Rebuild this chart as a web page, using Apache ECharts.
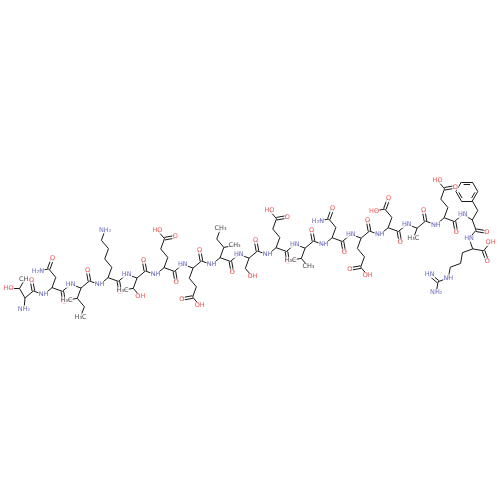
<!DOCTYPE html>
<html><head><meta charset="utf-8">
<script src="https://cdn.jsdelivr.net/npm/echarts@6/dist/echarts.min.js"></script>
<style>html,body{margin:0;background:#fff}#c{width:500px;height:500px}</style>
</head><body><div id="c"></div>
<script>
// peptide sequence, N to C terminus
const residues = ['Thr','Asn','Ile','Lys','Thr','Glu','Glu','Ile','Ser','Glu','Val','Asn','Glu','Asp','Ala','Glu','Phe','Arg'];
// side chains: zigzag items from CA outward
const sideChains = {
  Ala: ['CH3'], Ser: ['C','OH'], Thr: ['BR:CH3,OH'], Val: ['BR:CH3,CH3'],
  Ile: ['BR:CH3,ET'], Asn: ['C','CONH2'], Asp: ['C','COOH'], Glu: ['C','C','COOH'],
  Lys: ['C','C','C','C','NH2'], Phe: ['C','PH'], Arg: ['C','C','C','NH','GUAN']
};
const start = [25, 298];     // CA of residue 1
const baseAngle = -10.1;     // backbone direction, degrees
const tailAngles = [30, 70, 130, 70, 10]; // last bonds where the chain turns down
const L = 10.95;

const NCOL = '#4b4bb8', OCOL = '#ee2a2a';
const bonds = [], labels = [];
const rad = a => a * Math.PI / 180;
const dirOf = a => [Math.cos(rad(a)), Math.sin(rad(a))];
const rot = (d, a) => { const c = Math.cos(rad(a)), s = Math.sin(rad(a)); return [d[0]*c - d[1]*s, d[0]*s + d[1]*c]; };
const add = (p, d, k = L) => [p[0] + d[0]*k, p[1] + d[1]*k];
const norm = d => { const n = Math.hypot(d[0], d[1]); return [d[0]/n, d[1]/n]; };
function bond(a, b, dbl) {
  if (!dbl) { bonds.push([a, b]); return; }
  const n = norm([b[1]-a[1], a[0]-b[0]]), o = 1.3;
  bonds.push([[a[0]+n[0]*o, a[1]+n[1]*o], [b[0]+n[0]*o, b[1]+n[1]*o]]);
  bonds.push([[a[0]-n[0]*o, a[1]-n[1]*o], [b[0]-n[0]*o, b[1]-n[1]*o]]);
}
function label(p, t, d) {
  const left = d && d[0] < -0.3;
  const flip = { OH: 'HO', NH2: 'H₂N', CH3: 'H₃C', NH: 'HN' };
  const txt = { OH: 'OH', NH2: 'NH₂', CH3: 'CH₃', NH: 'NH', O: 'O', N: 'N' };
  const s = left && flip[t] ? flip[t] : (txt[t] || t);
  const col = t[0] === 'O' ? OCOL : (t[0] === 'N' || t === 'HN' ? NCOL : '#222');
  labels.push({ value: p, label: { formatter: s, color: col } });
}
function term(p, d, kind) {
  const a = rot(d, 60), b = rot(d, -60);
  const pa = add(p, a), pb = add(p, b);
  if (kind === 'COOH') { bond(p, pa, true); label(pa, 'O'); bond(p, pb); label(pb, 'OH', b); }
  if (kind === 'CONH2') { bond(p, pa, true); label(pa, 'O'); bond(p, pb); label(pb, 'NH2', b); }
  if (kind === 'GUAN') { bond(p, pa, true); label(pa, 'HN', a); bond(p, pb); label(pb, 'NH2', b); }
}
function side(ca, s, items) {
  let p = ca, d = rot(s, 30);
  for (let i = 0; i < items.length; i++) {
    const it = items[i], q = add(p, d);
    if (it.startsWith('BR:')) {
      bond(p, q);
      const [x, y] = it.slice(3).split(',');
      const da = rot(d, 60), db = rot(d, -60);
      const pa = add(q, da), pb = add(q, db);
      bond(q, pa); label(pa, x, da);
      bond(q, pb);
      if (y === 'ET') { const dc = rot(db, 60), pc = add(pb, dc); bond(pb, pc); label(pc, 'CH3', dc); }
      else label(pb, y, db);
    } else if (it === 'PH') {
      bond(p, q);
      const c = add(q, d);
      const ring = [];
      for (let k = 0; k < 6; k++) ring.push(add(c, rot([-d[0], -d[1]], k*60)));
      for (let k = 0; k < 6; k++) {
        const a = ring[k], b = ring[(k+1)%6];
        bond(a, b);
        if (k % 2 === 1) {
          const a2 = [a[0]+(c[0]-a[0])*0.22, a[1]+(c[1]-a[1])*0.22];
          const b2 = [b[0]+(c[0]-b[0])*0.22, b[1]+(c[1]-b[1])*0.22];
          bonds.push([[a2[0]+(b2[0]-a2[0])*0.12, a2[1]+(b2[1]-a2[1])*0.12], [b2[0]-(b2[0]-a2[0])*0.12, b2[1]-(b2[1]-a2[1])*0.12]]);
        }
      }
    } else if (it === 'COOH' || it === 'CONH2' || it === 'GUAN') {
      bond(p, q); term(q, d, it);
    } else {
      bond(p, q);
      if (it !== 'C') label(q, it, d);
    }
    p = q;
    d = (i % 2 === 0) ? rot(s, -30) : rot(s, 30);
  }
}

// backbone atoms: CA1, C1, N2, CA2, C2, ... , C18
const atoms = [start];
const nAtoms = residues.length * 3 - 1;
const nTail = tailAngles.length;
for (let k = 0; k < nAtoms - 1; k++) {
  const tk = k - (nAtoms - 1 - nTail);
  const a = tk >= 0 ? tailAngles[tk] : baseAngle + (k % 2 === 0 ? -30 : 30);
  atoms.push(add(atoms[k], dirOf(a)));
}
for (let k = 0; k < atoms.length - 1; k++) bond(atoms[k], atoms[k+1]);
const outward = k => norm([2*atoms[k][0] - atoms[k-1][0] - atoms[k+1][0], 2*atoms[k][1] - atoms[k-1][1] - atoms[k+1][1]]);

residues.forEach((r, i) => {
  const ca = i * 3, c = ca + 1, n = ca - 1;
  // N atoms
  if (i === 0) { const pn = add(atoms[0], dirOf(95)); bond(atoms[0], pn); label(pn, 'NH2'); }
  else label(atoms[n], outward(n)[1] < 0 ? 'HN' : 'NH');
  // side chain
  let s = i === 0 ? dirOf(210) : outward(ca);
  if (r === 'Phe') s = dirOf(-90);
  side(atoms[ca], s, sideChains[r]);
  // carbonyl
  if (c < atoms.length - 1) {
    const po = add(atoms[c], outward(c)); bond(atoms[c], po, true); label(po, 'O');
  } else {
    const d = norm([atoms[c][0]-atoms[ca][0], atoms[c][1]-atoms[ca][1]]);
    term(atoms[c], d, 'COOH');
  }
});

const chart = echarts.init(document.getElementById('c'));
chart.setOption({
  animation: false,
  grid: { left: 0, right: 0, top: 0, bottom: 0 },
  xAxis: { type: 'value', min: 0, max: 500, show: false },
  yAxis: { type: 'value', min: 0, max: 500, inverse: true, show: false },
  series: [
    { type: 'lines', coordinateSystem: 'cartesian2d', z: 1,
      lineStyle: { color: '#1a1a1a', width: 1, opacity: 1 },
      data: bonds.map(b => ({ coords: b })) },
    { type: 'scatter', z: 5, symbolSize: 0,
      label: { show: true, position: 'inside', fontSize: 6.5, fontFamily: 'DejaVu Sans',
               backgroundColor: '#fff', padding: [0, 0.5] },
      data: labels }
  ]
});
</script></body></html>
